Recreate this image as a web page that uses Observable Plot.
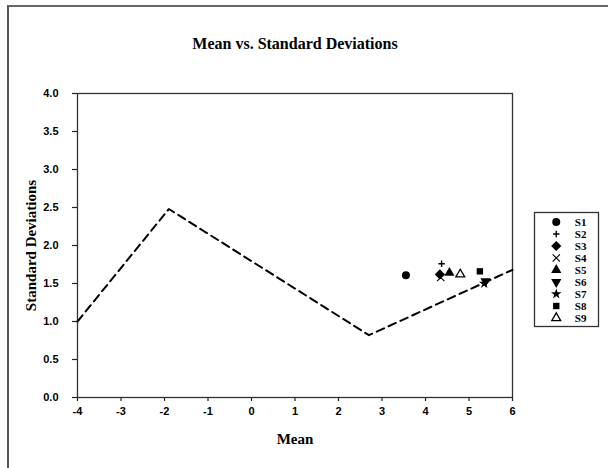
<!DOCTYPE html>
<html><head><meta charset="utf-8">
<script src="https://cdn.jsdelivr.net/npm/d3@7"></script>
<script src="https://cdn.jsdelivr.net/npm/@observablehq/plot@0.6"></script>
<style>
body{margin:0;background:#fff;}
#wrap{position:relative;width:608px;height:468px;overflow:hidden;background:#fff;}
#border{position:absolute;left:7px;top:5px;width:700px;height:600px;border-left:2px solid #555;border-top:2px solid #666;}
#title{position:absolute;left:0;width:590px;top:35px;text-align:center;font:bold 16px "Liberation Serif","Times New Roman",serif;color:#000;}
#chart{position:absolute;left:0;top:0;}
#legend{position:absolute;left:534px;top:204px;}
svg [aria-label$="tick label"] text{font-family:"Liberation Sans",Arial,sans-serif;font-weight:bold;font-size:11px;fill:#000;}
svg [aria-label$="-axis label"] text{font-family:"Liberation Serif","Times New Roman",serif;font-weight:bold;font-size:15px;fill:#000;}
svg [aria-label$="-axis tick"] path{stroke:#222;stroke-width:1.2px;}
</style></head>
<body>
<div id="wrap">
<div id="border"></div>
<div id="title">Mean vs. Standard Deviations</div>
<div id="chart"></div>
<div id="legend"></div>
</div>
<script>
const lineX = [-4, -1.9, 2.7, 6];
const lineY = [1.0, 2.48, 0.82, 1.68];
const series = ["S1","S2","S3","S4","S5","S6","S7","S8","S9"];
const means = [3.55, 4.37, 4.33, 4.35, 4.55, 5.38, 5.35, 5.25, 4.80];
const sds = [1.61, 1.76, 1.62, 1.58, 1.64, 1.53, 1.50, 1.66, 1.62];
const xTicks = [-4,-3,-2,-1,0,1,2,3,4,5,6];
const yTicks = [0,0.5,1,1.5,2,2.5,3,3.5,4];

const triDown = {draw(ctx, size){
  const y = -Math.sqrt(size / (Math.sqrt(3) * 3));
  ctx.moveTo(0, -y * 2);
  ctx.lineTo(-Math.sqrt(3) * y, y);
  ctx.lineTo(Math.sqrt(3) * y, y);
  ctx.closePath();
}};
const styles = [
  {symbol:"circle", fill:"black", stroke:"none", r:4, sw:1},
  {symbol:"plus", fill:"none", stroke:"black", r:2.2, sw:1.4},
  {symbol:"diamond2", fill:"black", stroke:"none", r:4.6, sw:1},
  {symbol:"times", fill:"none", stroke:"black", r:3.4, sw:1.1},
  {symbol:"triangle", fill:"black", stroke:"none", r:3.8, sw:1},
  {symbol:triDown, fill:"black", stroke:"none", r:3.8, sw:1},
  {symbol:"star", fill:"black", stroke:"none", r:3.3, sw:1},
  {symbol:"square", fill:"black", stroke:"none", r:3.6, sw:1},
  {symbol:"triangle", fill:"white", stroke:"black", r:3.3, sw:1.3}
];
const line = lineX.map((x,i)=>({x, y: lineY[i]}));
const pts = series.map((s,i)=>({s, x: means[i], y: sds[i]}));

const dotMarks = (data, xf, yf) => styles.map((st,i)=>Plot.dot(data.filter(d=>d.s===series[i]), {
  x: xf, y: yf, symbol: st.symbol, fill: st.fill, stroke: st.stroke, strokeWidth: st.sw, r: st.r
}));

const chart = Plot.plot({
  width: 608, height: 468,
  marginLeft: 77, marginRight: 96, marginTop: 93, marginBottom: 71,
  style: {background: "transparent", overflow: "visible"},
  x: {domain: [-4, 6], ticks: xTicks, tickSize: 4, tickPadding: 6, label: "Mean", labelArrow: "none", labelAnchor: "center", labelOffset: 46, tickFormat: d => String(d)},
  y: {domain: [0, 4], ticks: yTicks, tickSize: 5, tickPadding: 14, label: "Standard Deviations", labelArrow: "none", labelAnchor: "center", labelOffset: 52, tickFormat: d3.format(".1f")},
  marks: [
    Plot.frame({stroke: "#333", strokeWidth: 1.3}),
    Plot.line(line, {x: "x", y: "y", stroke: "black", strokeWidth: 2, strokeDasharray: "8,5"}),
    ...dotMarks(pts, "x", "y")
  ]
});
document.getElementById("chart").append(chart);

const lg = series.map(s=>({s}));
const legend = Plot.plot({
  width: 64, height: 130,
  marginLeft: 0, marginRight: 0, marginTop: 8, marginBottom: 8,
  style: {background: "white", overflow: "visible"},
  x: {domain: [0, 1], axis: null},
  y: {domain: series, type: "band", axis: null},
  marks: [
    Plot.frame({stroke: "#333", strokeWidth: 1.3}),
    ...dotMarks(lg.map(d=>({...d, x: 0.34})), "x", "s"),
    Plot.text(lg, {x: 0.72, y: "s", text: "s", fontFamily: "Liberation Serif, serif", fontWeight: "bold", fontSize: 11, fill: "black"})
  ]
});
document.getElementById("legend").append(legend);
</script>
</body></html>
